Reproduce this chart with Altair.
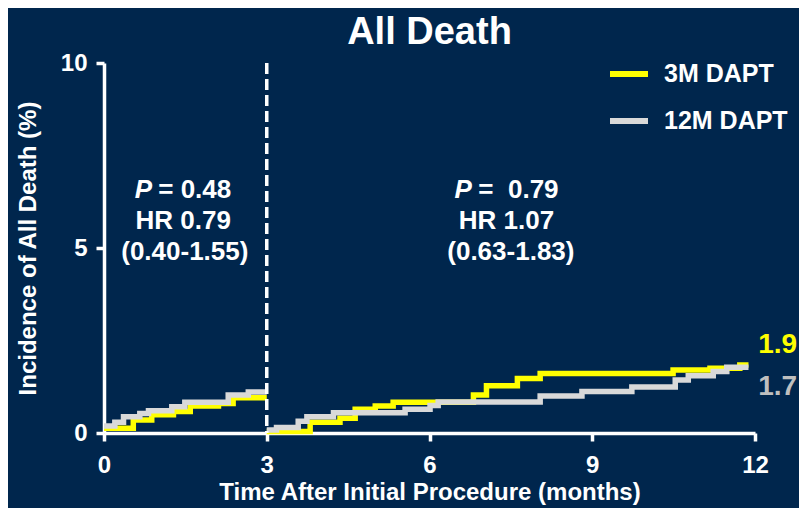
import altair as alt
import pandas as pd

FONT = "Liberation Sans"
BG = "#00264D"

series_names = ["3M DAPT", "12M DAPT"]
series_colors = ["#FFFF00", "#D9D9D9"]

# 3M DAPT, 0-3 months
y3_early_t = [0, 0.54, 0.88, 1.28, 1.59, 2.11, 2.38, 3.0]
y3_early_v = [0.13, 0.35, 0.49, 0.58, 0.73, 0.80, 0.95, 0.95]
# 12M DAPT, 0-3 months
g12_early_t = [0, 0.20, 0.36, 0.66, 0.82, 1.25, 1.49, 2.29, 2.66, 3.0]
g12_early_v = [0.19, 0.29, 0.44, 0.53, 0.60, 0.71, 0.83, 1.03, 1.11, 1.11]
# 3M DAPT, 3-12 months
y3_late_t = [3.0, 3.80, 4.35, 4.63, 5.0, 5.33, 6.81, 7.05, 7.62, 8.04, 10.49, 11.17, 11.72, 11.88]
y3_late_v = [0.04, 0.29, 0.40, 0.64, 0.73, 0.83, 1.03, 1.28, 1.47, 1.61, 1.70, 1.75, 1.84, 1.84]
# 12M DAPT, 3-12 months
g12_late_t = [3.0, 3.18, 3.58, 3.74, 4.23, 5.55, 6.01, 6.16, 8.04, 8.81, 9.73, 10.53, 10.77, 11.23, 11.48, 11.88]
g12_late_v = [0.08, 0.15, 0.32, 0.44, 0.55, 0.64, 0.74, 0.84, 1.0, 1.12, 1.24, 1.43, 1.55, 1.66, 1.78, 1.78]

x_ticks = [0, 3, 6, 9, 12]
y_ticks = [0, 5, 10]
landmark = [3]

# annotation blocks
ann_center_text = ["HR 0.79", "(0.40-1.55)", "HR 1.07", "(0.63-1.83)"]
ann_center_t = [1.46, 1.49, 7.42, 7.50]
ann_center_v = [5.51, 4.68, 5.51, 4.68]
ann_p_t = [0.885, 6.78]
ann_p_v = [6.35, 6.35]
ann_eq_text = ["= 0.48", "=\u00a0\u00a00.79"]
ann_eq_t = [1.0, 6.90]
ann_eq_v = [6.35, 6.35]

end_text = ["1.9", "1.7"]
end_t = [12.06, 12.06]
end_v = [2.38, 1.25]
end_colors = ["#FFFF00", "#BFBFBF"]

rows = []
for name, seg, ts, vs in [
    ("3M DAPT", "a", y3_early_t, y3_early_v),
    ("12M DAPT", "a", g12_early_t, g12_early_v),
    ("3M DAPT", "b", y3_late_t, y3_late_v),
    ("12M DAPT", "b", g12_late_t, g12_late_v),
]:
    for t, v in zip(ts, vs):
        rows.append({"series": name, "segment": seg, "t": t, "v": v})
df = pd.DataFrame(rows)

x_enc = alt.X("t:Q", scale=alt.Scale(domain=[0, 12], nice=False),
              axis=alt.Axis(values=x_ticks, format="d", labelFlush=False,
                            title="Time After Initial Procedure (months)",
                            labelPadding=12, titlePadding=3))
y_enc = alt.Y("v:Q", scale=alt.Scale(domain=[0, 10], nice=False),
              axis=alt.Axis(values=y_ticks, format="d", labelFlush=False,
                            title="Incidence of All Death (%)",
                            labelPadding=9, titlePadding=20))
color_enc = alt.Color("series:N",
                      scale=alt.Scale(domain=series_names, range=series_colors),
                      legend=alt.Legend(title=None, orient="none", legendX=503, legendY=-11,
                                        symbolType="stroke", symbolSize=1444,
                                        symbolStrokeWidth=6, labelFontSize=25,
                                        labelFont=FONT, labelFontWeight="bold",
                                        labelColor="white", labelOffset=13,
                                        rowPadding=12, padding=0, labelLimit=300))

base = alt.Chart(df)
line3 = base.transform_filter(alt.datum.series == "3M DAPT").mark_line(
    interpolate="step-after", strokeWidth=5.5).encode(x=x_enc, y=y_enc, color=color_enc,
                                                     detail="segment:N")
line12 = base.transform_filter(alt.datum.series == "12M DAPT").mark_line(
    interpolate="step-after", strokeWidth=5.5).encode(x=x_enc, y=y_enc, color=color_enc,
                                                     detail="segment:N")

rule = alt.Chart(pd.DataFrame({"t": landmark})).mark_rule(
    color="white", strokeDash=[11, 5], strokeWidth=3.5).encode(x="t:Q")

ann_c = alt.Chart(pd.DataFrame({"text": ann_center_text, "t": ann_center_t, "v": ann_center_v})).mark_text(
    font=FONT, fontSize=26, fontWeight="bold", color="white", align="center", baseline="alphabetic"
).encode(x="t:Q", y="v:Q", text="text:N")

ann_p = alt.Chart(pd.DataFrame({"text": ["P", "P"], "t": ann_p_t, "v": ann_p_v})).mark_text(
    font=FONT, fontSize=26, fontWeight="bold", fontStyle="italic", color="white",
    align="right", baseline="alphabetic"
).encode(x="t:Q", y="v:Q", text="text:N")

ann_eq = alt.Chart(pd.DataFrame({"text": ann_eq_text, "t": ann_eq_t, "v": ann_eq_v})).mark_text(
    font=FONT, fontSize=26, fontWeight="bold", color="white", align="left", baseline="alphabetic"
).encode(x="t:Q", y="v:Q", text="text:N")

ends = alt.Chart(pd.DataFrame({"text": end_text, "t": end_t, "v": end_v, "c": end_colors})).mark_text(
    font=FONT, fontSize=28, fontWeight="bold", align="left", baseline="middle"
).encode(x="t:Q", y="v:Q", text="text:N", color=alt.Color("c:N", scale=None))

chart = alt.layer(line3, line12, rule, ann_c, ann_p, ann_eq, ends).properties(
    width=651, height=370,
    autosize=alt.AutoSizeParams(type="none"),
    padding={"left": 96, "top": 55, "right": 44, "bottom": 75},
    title=alt.TitleParams("All Death", fontSize=38, font=FONT, fontWeight="bold",
                          color="white", anchor="middle", frame="group", offset=-1),
    background=BG,
).configure_axis(
    domainColor="white", domainWidth=3.5, tickColor="white", tickWidth=3.5, tickSize=8,
    labelColor="white", labelFont=FONT, labelFontSize=24, labelFontWeight="bold",
    titleColor="white", titleFont=FONT, titleFontSize=24, titleFontWeight="bold",
    grid=False,
).configure_view(stroke=None)

chart.save("out.html", embed_options={"renderer": "svg", "actions": False})
